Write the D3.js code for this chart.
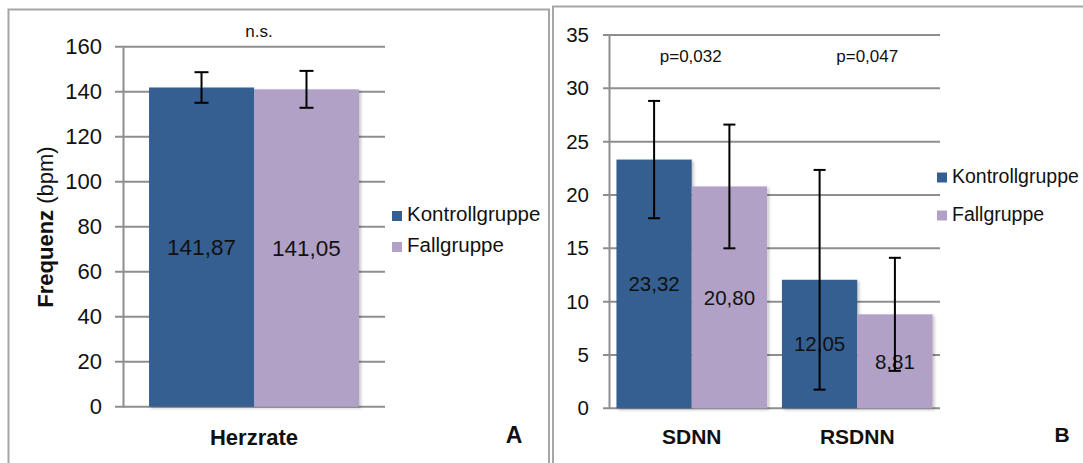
<!DOCTYPE html>
<html>
<head>
<meta charset="utf-8">
<script src="https://cdn.jsdelivr.net/npm/d3@7"></script>
<style>
  html, body { margin: 0; padding: 0; background: #ffffff; }
  svg { display: block; font-family: "Liberation Sans", Arial, sans-serif; }
</style>
</head>
<body>
<svg id="chart" width="1083" height="463"></svg>
<script>
// ---------- data ----------
const seriesNames = ["Kontrollgruppe", "Fallgruppe"];

const aCategories = ["Herzrate"];
const aKontroll = [141.87];
const aFall = [141.05];
const aKontrollErr = [6.8];
const aFallErr = [8.2];
const aTicks = [0, 20, 40, 60, 80, 100, 120, 140, 160];
const aAnnotations = ["n.s."];

const bCategories = ["SDNN", "RSDNN"];
const bKontroll = [23.32, 12.05];
const bFall = [20.80, 8.81];
const bKontrollErr = [5.5, 10.3];
const bFallErr = [5.8, 5.3];
const bTicks = [0, 5, 10, 15, 20, 25, 30, 35];
const bAnnotations = ["p=0,032", "p=0,047"];

// ---------- styles ----------
const seriesColors = ["#365f91", "#b2a1c7"];
const gridColor = "#8e8e8e";
const fmt = v => d3.format(".2f")(v).replace(".", ",");

const svg = d3.select("#chart");
const defs = svg.append("defs");
const f = defs.append("filter").attr("id", "shadow")
  .attr("x", "-10%").attr("y", "-10%").attr("width", "130%").attr("height", "130%");
f.append("feDropShadow").attr("dx", 2).attr("dy", 1.5).attr("stdDeviation", 1.5)
  .attr("flood-color", "#000").attr("flood-opacity", 0.22);

// panel frames
svg.append("rect").attr("x", 8.5).attr("y", 9.5).attr("width", 540.5).attr("height", 470)
  .attr("fill", "none").attr("stroke", "#a6a6a6").attr("stroke-width", 2);
svg.append("rect").attr("x", 553).attr("y", 6.5).attr("width", 560).attr("height", 470)
  .attr("fill", "none").attr("stroke", "#a6a6a6").attr("stroke-width", 2);

function drawPanel(o) {
  const g = svg.append("g");
  const y = d3.scaleLinear().domain([0, d3.max(o.ticks)]).range([o.bottom, o.top]);
  const x0 = d3.scaleBand().domain(o.categories).range([o.left, o.right])
    .paddingInner(o.padInner).paddingOuter(o.padOuter);
  const x1 = d3.scaleBand().domain(seriesNames).range([0, x0.bandwidth()]).padding(0);

  // gridlines + ticks
  g.append("g").selectAll("line").data(o.ticks).join("line")
    .attr("x1", o.left - o.tickLen).attr("x2", o.right)
    .attr("y1", d => y(d)).attr("y2", d => y(d))
    .attr("stroke", gridColor).attr("stroke-width", 2);

  // y axis
  const ax = g.append("g").attr("transform", `translate(${o.left},0)`)
    .call(d3.axisLeft(y).tickValues(o.ticks).tickSize(0).tickPadding(o.labelGap));
  ax.select(".domain").attr("stroke", gridColor).attr("stroke-width", 2);
  ax.selectAll("text").attr("font-size", o.tickFont).attr("fill", "#111")
    .attr("font-family", "Liberation Sans, Arial, sans-serif");

  const series = [
    { name: seriesNames[0], vals: o.kontroll, errs: o.kontrollErr, color: seriesColors[0] },
    { name: seriesNames[1], vals: o.fall, errs: o.fallErr, color: seriesColors[1] }
  ];
  const items = [];
  o.categories.forEach((c, i) => series.forEach(s => items.push({ c, s, v: s.vals[i], e: s.errs[i] })));

  // bars
  g.append("g").selectAll("rect").data(items).join("rect")
    .attr("x", d => x0(d.c) + x1(d.s.name))
    .attr("y", d => y(d.v))
    .attr("width", x1.bandwidth())
    .attr("height", d => y(0) - y(d.v))
    .attr("fill", d => d.s.color)
    .attr("filter", "url(#shadow)");

  // value labels
  g.append("g").selectAll("text").data(items).join("text")
    .attr("x", d => x0(d.c) + x1(d.s.name) + x1.bandwidth() / 2)
    .attr("y", d => y(d.v / 2))
    .attr("dy", "0.36em")
    .attr("text-anchor", "middle")
    .attr("font-size", o.valueFont).attr("fill", "#111")
    .text(d => fmt(d.v));

  // error bars
  const eb = g.append("g").attr("stroke", "#000").attr("stroke-width", 2);
  items.forEach(d => {
    const cx = x0(d.c) + x1(d.s.name) + x1.bandwidth() / 2;
    const yt = y(d.v + d.e), yb = y(d.v - d.e);
    eb.append("line").attr("x1", cx).attr("x2", cx).attr("y1", yt).attr("y2", yb);
    eb.append("line").attr("x1", cx - o.cap).attr("x2", cx + o.cap).attr("y1", yt).attr("y2", yt);
    eb.append("line").attr("x1", cx - o.cap).attr("x2", cx + o.cap).attr("y1", yb).attr("y2", yb);
  });

  // category labels
  g.append("g").selectAll("text").data(o.categories).join("text")
    .attr("x", d => x0(d) + x0.bandwidth() / 2 + o.catShift)
    .attr("y", o.catY)
    .attr("text-anchor", "middle").attr("font-weight", "bold")
    .attr("font-size", o.catFont).attr("fill", "#111")
    .text(d => d);

  // annotations
  g.append("g").selectAll("text").data(o.annotations).join("text")
    .attr("x", (d, i) => x0(o.categories[i]) + x0.bandwidth() / 2 + o.annShift[i])
    .attr("y", o.annY)
    .attr("text-anchor", "middle")
    .attr("font-size", o.annFont).attr("fill", "#111")
    .text(d => d);

  // legend
  const lg = g.append("g").attr("transform", `translate(${o.legX},${o.legY})`);
  seriesNames.forEach((n, i) => {
    lg.append("rect").attr("x", 0).attr("y", i * o.legStep - 10).attr("width", 10).attr("height", 10)
      .attr("fill", seriesColors[i]);
    lg.append("text").attr("x", 15).attr("y", i * o.legStep)
      .attr("font-size", o.legFont).attr("fill", "#111").text(n);
  });

  // panel letter
  g.append("text").attr("x", o.letterX).attr("y", o.catY - 2)
    .attr("text-anchor", "middle").attr("font-weight", "bold")
    .attr("font-size", o.letterFont).attr("fill", "#111").text(o.letter);
  return { g, y, x0 };
}

const A = drawPanel({
  categories: aCategories, kontroll: aKontroll, fall: aFall,
  kontrollErr: aKontrollErr, fallErr: aFallErr, ticks: aTicks, annotations: aAnnotations,
  left: 123, right: 385, top: 46.7, bottom: 406.7,
  padInner: 0, padOuter: 0.124, tickLen: 8, labelGap: 21,
  tickFont: 22, valueFont: 22.5, catFont: 22, catY: 445, catShift: 0,
  annY: 37, annFont: 17, annShift: [5],
  legX: 392, legY: 221, legStep: 31, legFont: 20.5,
  cap: 7, letter: "A", letterX: 514, letterFont: 23
});

// y title panel A
svg.append("text")
  .attr("transform", "translate(53,227) rotate(-90)")
  .attr("text-anchor", "middle").attr("font-size", 22).attr("fill", "#111")
  .call(t => {
    t.append("tspan").attr("font-weight", "bold").text("Frequenz");
    t.append("tspan").text(" (bpm)");
  });

const B = drawPanel({
  categories: bCategories, kontroll: bKontroll, fall: bFall,
  kontrollErr: bKontrollErr, fallErr: bFallErr, ticks: bTicks, annotations: bAnnotations,
  left: 609, right: 940, top: 35, bottom: 408.3,
  padInner: 0.09, padOuter: 0.045, tickLen: 6, labelGap: 20,
  tickFont: 20.5, valueFont: 20.5, catFont: 21, catY: 444, catShift: 0,
  annY: 62, annFont: 17, annShift: [-1, 10],
  legX: 937, legY: 182.5, legStep: 38, legFont: 19.5,
  cap: 6, letter: "B", letterX: 1062, letterFont: 21
});
</script>
</body>
</html>
